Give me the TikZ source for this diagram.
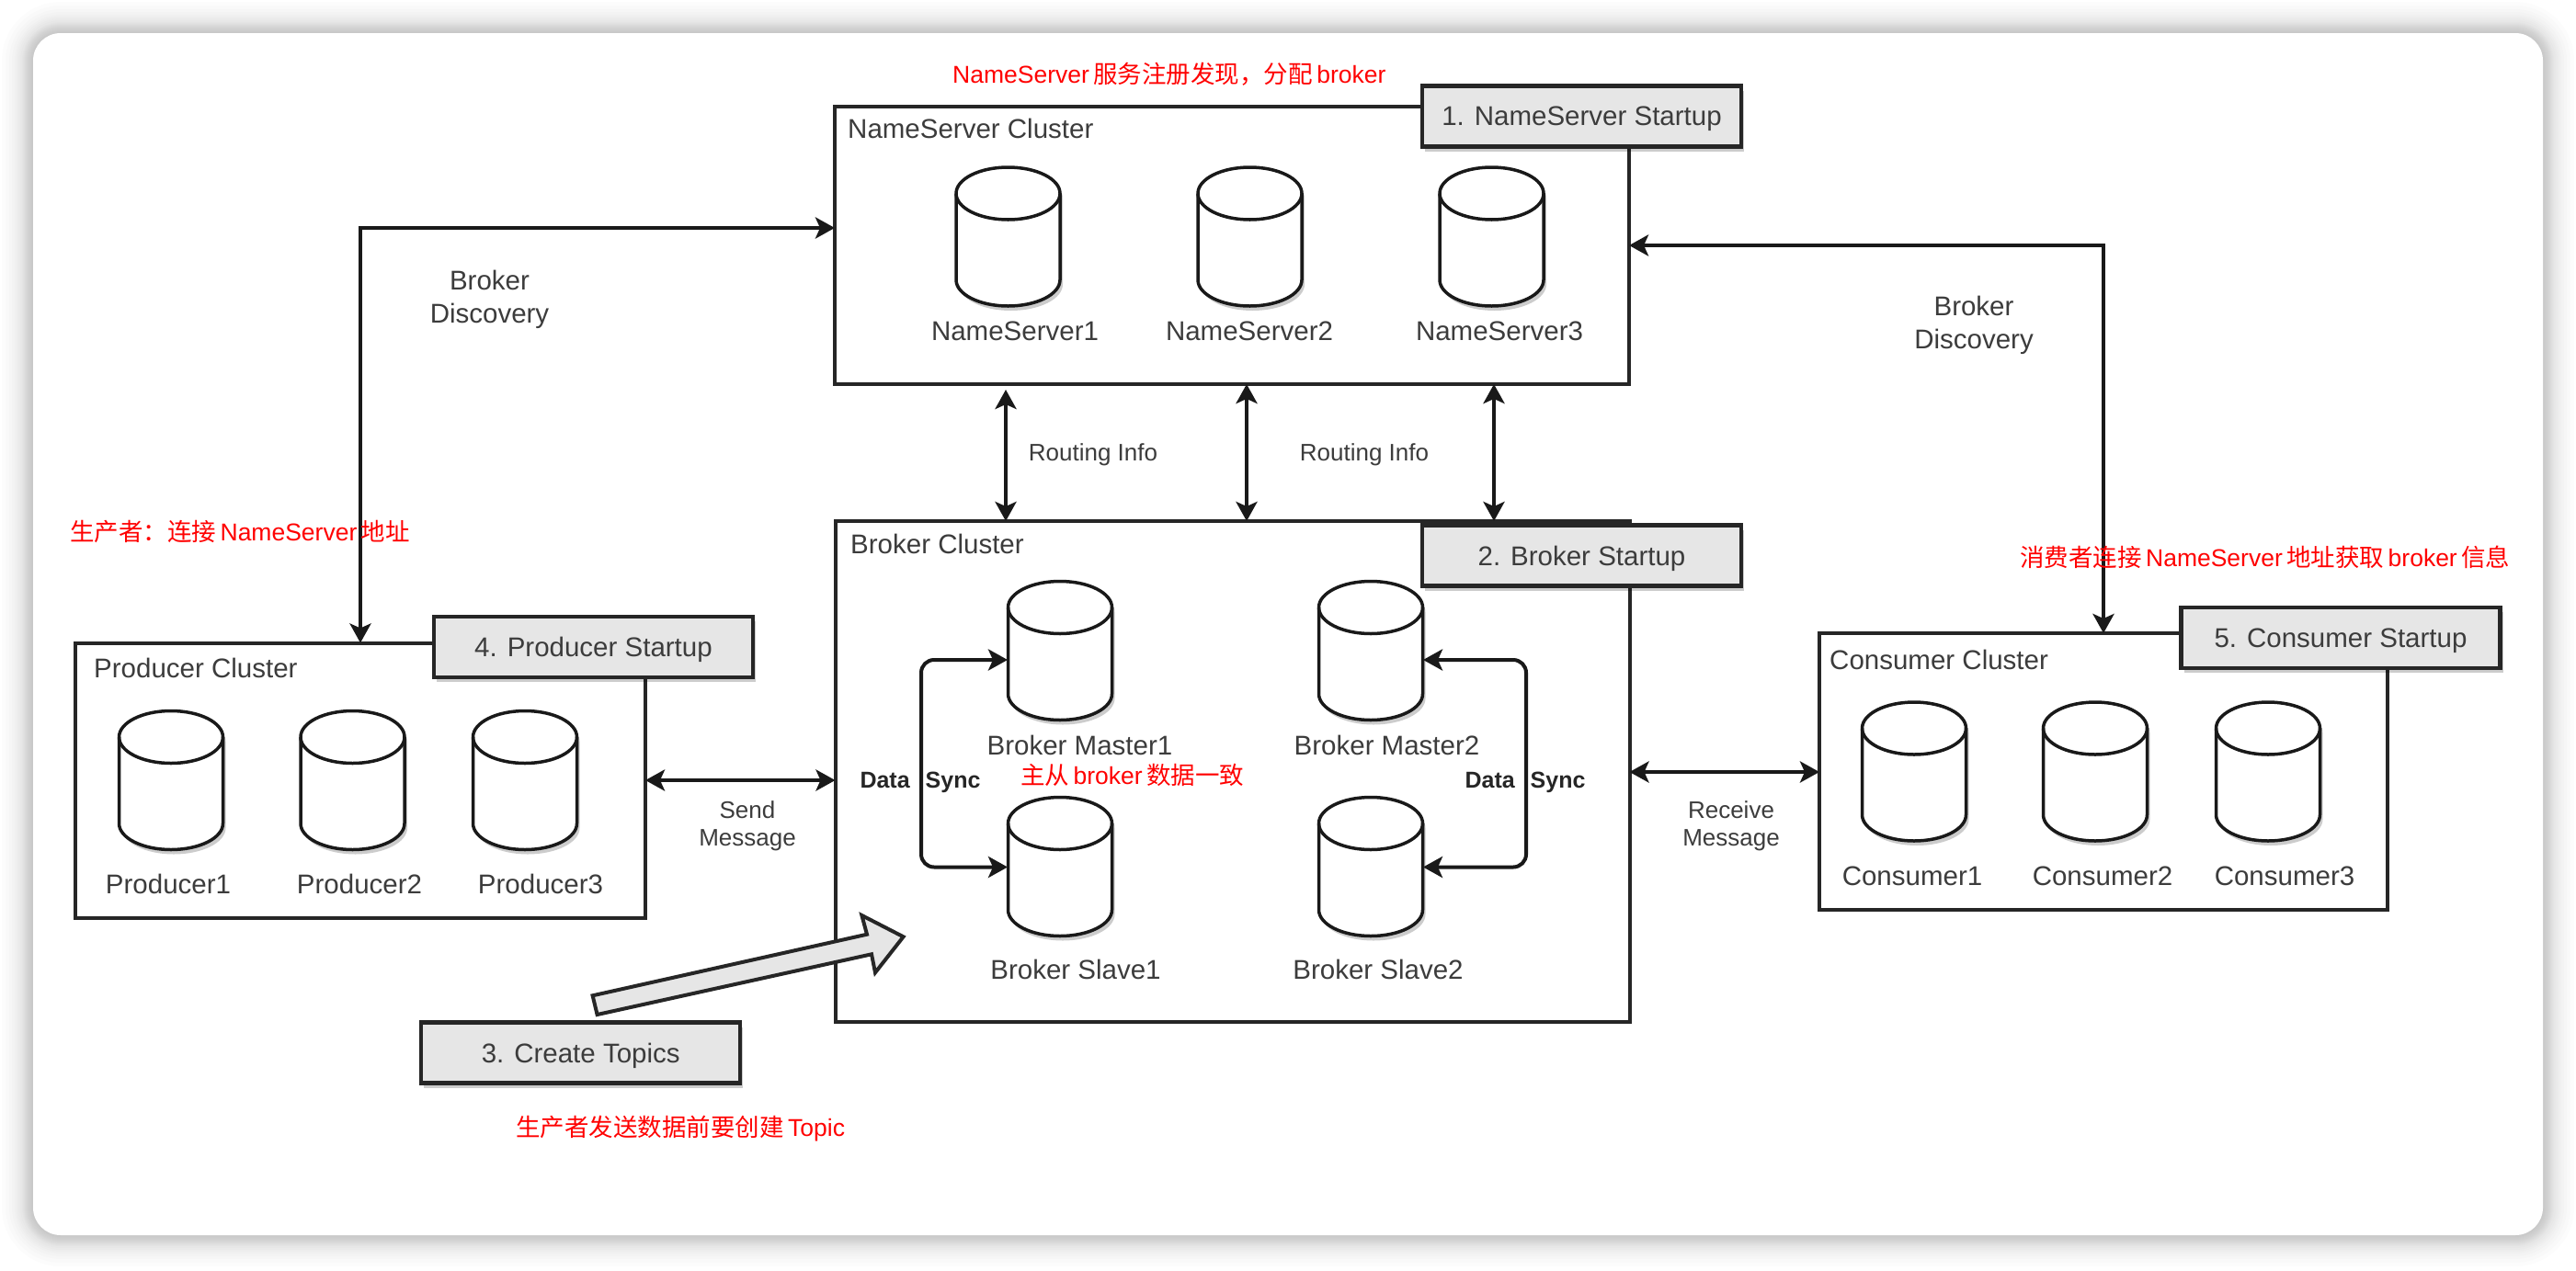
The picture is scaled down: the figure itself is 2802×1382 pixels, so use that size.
\documentclass[tikz,border=0pt]{standalone}
\usepackage{fontspec}
\setmainfont{Liberation Sans}
\newfontfamily\cjkfont{Noto Sans CJK SC}
\usetikzlibrary{arrows.meta,shadows}
\newcommand{\zh}[1]{{\cjkfont #1}}
\definecolor{boxgray}{HTML}{E6E6E6}
\definecolor{textgray}{HTML}{3C3C3C}
\tikzset{
  softshadow/.style={drop shadow={shadow xshift=3pt,shadow yshift=-5pt,opacity=.2,fill=black}},
  clusterbox/.style={draw=black!85,line width=4pt,fill=white,inner sep=0pt,outer sep=0pt},
  startupbox/.style={draw=black!85,line width=4.5pt,fill=boxgray,text=textgray,minimum width=347pt,
    minimum height=66pt,inner sep=0pt,outer sep=0pt,text depth=0pt,font=\fontsize{29.5}{35}\selectfont,softshadow},
  dbnode/.style={minimum width=113pt,minimum height=151pt,inner sep=0pt,outer sep=0pt},
  dbline/.style={draw=black!90,line width=3.5pt,x radius=56.5pt,y radius=28.5pt},
  itemtext/.style={text=textgray,inner sep=0pt,font=\fontsize{29.5}{36}\selectfont,align=center},
  smalltext/.style={text=textgray,inner sep=0pt,font=\fontsize{26}{30}\selectfont,align=center},
  synctext/.style={text=black!85,inner sep=0pt,font=\bfseries\fontsize{25}{30}\selectfont},
  redtext/.style={text=red,inner sep=0pt,anchor=west,font=\fontsize{26.5}{32}\selectfont},
  link/.style={line width=4pt,draw=black!90,{Stealth[length=21pt,width=23pt,inset=5pt]}-{Stealth[length=21pt,width=23pt,inset=5pt]}},
  topicarrow/.style={draw=black!85,line width=4pt,fill=boxgray,line join=miter}
}
\begin{document}
\begin{tikzpicture}[x=1pt,y=-1pt]
  \useasboundingbox (0,0) rectangle (2802,1382);
  \foreach \s in {1,2,...,12,14,16,18,20,23,26,30,34}
    \fill[black,opacity=.0105,rounded corners=30+\s] (36-\s,36-\s) rectangle (2766+\s,1344+\s);
  \fill[white,rounded corners=30] (36,36) rectangle (2766,1344);

  \node[clusterbox,minimum width=864pt,minimum height=302pt] (nscluster) at (1340,267) {};
  \node[clusterbox,minimum width=864pt,minimum height=545pt] (bcluster) at (1340.5,839.5) {};
  \node[clusterbox,minimum width=620pt,minimum height=299pt] (pcluster) at (392,849) {};
  \node[clusterbox,minimum width=618pt,minimum height=301pt] (ccluster) at (2288,839.5) {};

  \node[itemtext,anchor=west] (nstitle) at (922,140) {NameServer Cluster};
  \node[itemtext,anchor=west] (btitle) at (925,592) {Broker Cluster};
  \node[itemtext,anchor=west] (ptitle) at (102,727) {Producer Cluster};
  \node[itemtext,anchor=west] (ctitle) at (1990,718) {Consumer Cluster};

  \foreach \id/\cx/\cy/\lx/\ly/\txt in {
    ns1/1096.5/257.5/1104/360/NameServer1,
    ns2/1359.5/257.5/1359/360/NameServer2,
    ns3/1622.5/257.5/1631/360/NameServer3,
    bm1/1153/708/1174.5/811/Broker Master1,
    bm2/1491/708/1508.5/811/Broker Master2,
    bs1/1153/943/1170/1055/Broker Slave1,
    bs2/1491/943/1499/1055/Broker Slave2,
    p1/186/849/183/962/Producer1,
    p2/383.5/849/391/962/Producer2,
    p3/571/849/588/962/Producer3,
    c1/2082/839.5/2080/953/Consumer1,
    c2/2279/839.5/2287/953/Consumer2,
    c3/2467/839.5/2485/953/Consumer3}
  {
    \node[dbnode] (\id) at (\cx,\cy) {};
    \draw[dbline,fill=white,softshadow] (\id.north west) ++(0,28.5) arc[start angle=180,end angle=0]
      -- ++(0,94) arc[start angle=0,end angle=-180] -- cycle;
    \draw[dbline] (\id.north west) ++(0,28.5) arc[start angle=180,end angle=360];
    \node[itemtext] (\id text) at (\lx,\ly) {\txt};
  }

  \node[startupbox] (nsstart) at (1720.5,126.5) {1. NameServer Startup};
  \node[startupbox] (bstart) at (1720.5,604.5) {2. Broker Startup};
  \node[startupbox] (pstart) at (645.5,704) {4. Producer Startup};
  \node[startupbox] (cstart) at (2546,694) {5. Consumer Startup};
  \node[startupbox] (tstart) at (631.7,1145.5) {3. Create Topics};

  \coordinate (pbend) at (392,248);
  \coordinate (cbend) at (2288,267);
  \coordinate (r1) at (1094,494);
  \coordinate (r2) at (1356,494);
  \coordinate (r3) at (1625,494);
  \coordinate (send) at (805,849);
  \coordinate (recv) at (1875,840);
  \coordinate (bm1in) at (1096,718);
  \coordinate (bs1in) at (1096,943.5);
  \coordinate (bm2in) at (1548,718);
  \coordinate (bs2in) at (1548,943.5);
  \coordinate (syncl) at (1002,830);
  \coordinate (syncr) at (1660,830);

  \draw[link] (pcluster.north -| pbend) -- (pbend) -- (nscluster.west |- pbend);
  \draw[link] (ccluster.north -| cbend) -- (cbend) -- (nscluster.east |- cbend);
  \draw[link,shorten <=6pt] (nscluster.south -| r1) -- (bcluster.north -| r1);
  \draw[link] (nscluster.south -| r2) -- (bcluster.north -| r2);
  \draw[link] (nscluster.south -| r3) -- (bcluster.north -| r3);
  \draw[link] (pcluster.east |- send) -- (bcluster.west |- send);
  \draw[link] (bcluster.east |- recv) -- (ccluster.west |- recv);
  \draw[link,rounded corners=14pt] (bm1in) -| (syncl) |- (bs1in);
  \draw[link,rounded corners=14pt] (bm2in) -| (syncr) |- (bs2in);

  \draw[topicarrow] (644.6,1083.3) -- (943,1016.7) -- (937.4,996) -- (982.6,1019.3)
    -- (952,1058.3) -- (948,1038.3) -- (649.6,1104) -- cycle;

  \node[itemtext] (pdisc) at (532.5,326) {Broker\\Discovery};
  \node[itemtext] (cdisc) at (2147,354) {Broker\\Discovery};
  \node[smalltext] (rinfo1) at (1189,495) {Routing Info};
  \node[smalltext] (rinfo2) at (1484,495) {Routing Info};
  \node[smalltext] (sendtext) at (813,899) {Send\\Message};
  \node[smalltext] (recvtext) at (1883,899) {Receive\\Message};
  \node[synctext] (syncltext) at (1001,851) {Data\hspace{17pt}Sync};
  \node[synctext] (syncrtext) at (1659,851) {Data\hspace{17pt}Sync};

  \node[redtext] (rednote1) at (1036,81) {NameServer\,\zh{服务注册发现，分配}\,broker};
  \node[redtext] (rednote2) at (76,578) {\zh{生产者：连接}\,NameServer\,\zh{地址}};
  \node[redtext] (rednote3) at (2197,606) {\zh{消费者连接}\,NameServer\,\zh{地址获取}\,broker\,\zh{信息}};
  \node[redtext] (rednote4) at (1110,843) {\zh{主从}\,broker\,\zh{数据一致}};
  \node[redtext] (rednote5) at (561,1228) {\zh{生产者发送数据前要创建}\,Topic};
\end{tikzpicture}
\end{document}
